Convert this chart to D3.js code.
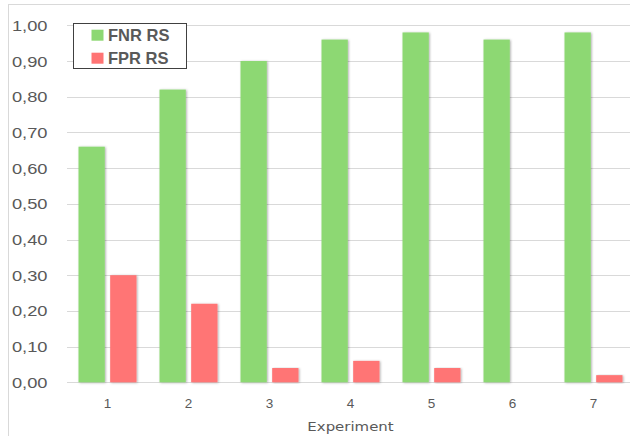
<!DOCTYPE html>
<html>
<head>
<meta charset="utf-8">
<script src="https://cdn.jsdelivr.net/npm/d3@7"></script>
<style>
    body {margin: 0; background: #fff;}
    svg {display: block; font-family: 'Liberation Sans', Arial, sans-serif;}
</style>
</head>
<body>
<svg></svg>
<script>
const EXPERIMENTS = ['1', '2', '3', '4', '5', '6', '7'];
const SERIES = ['FNR RS', 'FPR RS'];
const FNR_VALUES = [0.66, 0.82, 0.90, 0.96, 0.98, 0.96, 0.98];
const FPR_VALUES = [0.30, 0.22, 0.04, 0.06, 0.04, 0.00, 0.02];
const Y_TICKS = [0, 0.1, 0.2, 0.3, 0.4, 0.5, 0.6, 0.7, 0.8, 0.9, 1.0];
const COLORS = ['#8DD873', '#FF7474'];

const WIDTH = 630;
const HEIGHT = 436;
const PLOT = {left: 67, right: 634, top: 25.3, bottom: 382.3};

const svg = d3.select('svg')
    .attr('width', WIDTH)
    .attr('height', HEIGHT);

// drop shadow for the bars
const defs = svg.append('defs');
defs.append('filter')
    .attr('id', 'shadow')
    .attr('x', '-20%').attr('y', '-5%')
    .attr('width', '150%').attr('height', '115%')
    .append('feDropShadow')
    .attr('dx', 1).attr('dy', 0.5)
    .attr('stdDeviation', 0.9)
    .attr('flood-color', '#000')
    .attr('flood-opacity', 0.3);

// chart area border (cropped on right/bottom)
svg.append('rect')
    .attr('x', 8.5).attr('y', 4.5)
    .attr('width', 800).attr('height', 600)
    .attr('fill', 'none')
    .attr('stroke', '#d9d9d9');

/* ************** SCALES ************** */
const x = d3.scaleBand()
    .domain(EXPERIMENTS)
    .range([PLOT.left, PLOT.right])
    .paddingInner(0.284)
    .paddingOuter(0.142);

const xSeries = d3.scaleBand()
    .domain(SERIES)
    .range([0, x.bandwidth()])
    .paddingInner(0.17);

const y = d3.scaleLinear()
    .domain([0, 1])
    .range([PLOT.bottom, PLOT.top]);

/* ************** GRID + Y AXIS ************** */
const grid = svg.append('g');
grid.selectAll('line')
    .data(Y_TICKS)
    .enter().append('line')
    .attr('x1', PLOT.left)
    .attr('x2', WIDTH)
    .attr('y1', d => Math.round(y(d)) + 0.5)
    .attr('y2', d => Math.round(y(d)) + 0.5)
    .attr('stroke', '#d9d9d9')
    .attr('stroke-width', 1);

const fmt = d => d3.format('.2f')(d).replace('.', ',');
// labels are a bit wider than the installed fonts, so stretch them horizontally
svg.append('g')
    .selectAll('text')
    .data(Y_TICKS)
    .enter().append('text')
    .attr('transform', d => `translate(47.5, ${y(d)}) scale(1.18, 1)`)
    .attr('dy', '0.36em')
    .attr('text-anchor', 'end')
    .attr('fill', '#595959')
    .style('font-size', '15.5px')
    .text(fmt);

/* ************** BARS ************** */
const rows = EXPERIMENTS.map((e, i) => ({
    experiment: e,
    values: [FNR_VALUES[i], FPR_VALUES[i]]
}));

const groups = svg.append('g')
    .selectAll('g')
    .data(rows)
    .enter().append('g')
    .attr('transform', d => `translate(${x(d.experiment)},0)`);

groups.selectAll('rect')
    .data(d => d.values.map((v, k) => ({series: SERIES[k], value: v, k: k})))
    .enter().append('rect')
    .filter(d => d.value > 0)
    .attr('x', d => xSeries(d.series))
    .attr('y', d => y(d.value))
    .attr('width', xSeries.bandwidth())
    .attr('height', d => y(0) - y(d.value))
    .attr('fill', d => COLORS[d.k])
    .attr('filter', 'url(#shadow)');

/* ************** X AXIS ************** */
svg.append('g')
    .selectAll('text')
    .data(EXPERIMENTS)
    .enter().append('text')
    .attr('x', d => x(d) + x.bandwidth() / 2)
    .attr('y', 403.5)
    .attr('dy', '0.36em')
    .attr('text-anchor', 'middle')
    .attr('fill', '#595959')
    .style('font-size', '13.5px')
    .text(d => d);

svg.append('text')
    .attr('transform', 'translate(350.5, 426) scale(1.15, 1)')
    .attr('dy', '0.36em')
    .attr('text-anchor', 'middle')
    .attr('fill', '#595959')
    .style('font-family', "'DejaVu Sans', sans-serif")
    .style('font-size', '13px')
    .text('Experiment');

/* ************** LEGEND ************** */
const legend = svg.append('g');
legend.append('rect')
    .attr('x', 73.5).attr('y', 23.5)
    .attr('width', 113).attr('height', 45)
    .attr('fill', '#fff')
    .attr('stroke', '#404040')
    .attr('stroke-width', 1);

const items = legend.selectAll('.item')
    .data(SERIES)
    .enter().append('g')
    .classed('item', true)
    .attr('transform', (d, i) => `translate(91.5, ${35.2 + i * 23})`);

items.append('rect')
    .attr('x', 0).attr('y', -5.5)
    .attr('width', 12).attr('height', 11)
    .attr('fill', (d, i) => COLORS[i]);

items.append('text')
    .attr('x', 16.5)
    .attr('y', 0)
    .attr('dy', '0.36em')
    .attr('fill', '#595959')
    .style('font-size', '16.5px')
    .style('font-weight', 'bold')
    .text(d => d);
</script>
</body>
</html>
